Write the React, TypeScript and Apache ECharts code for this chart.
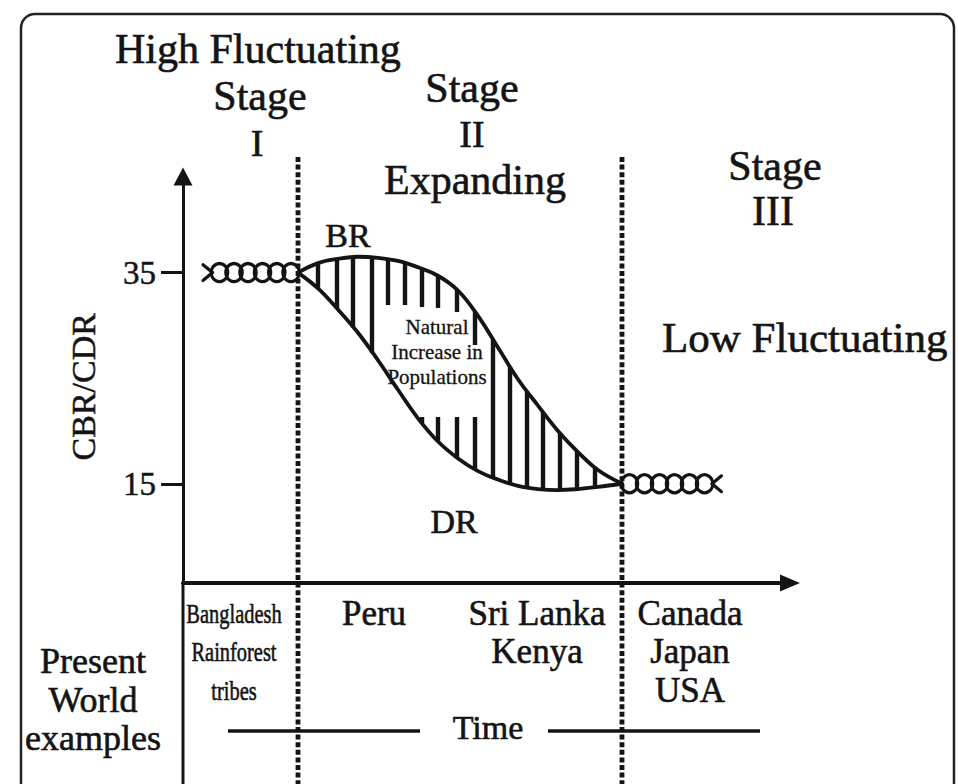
import React, { useEffect, useRef } from 'react';
import * as echarts from 'echarts';

// ---- axes ----
const xMin = 0;
const xMax = 121.4;
const yMin = 5.6;
const yMax = 44.1;
const yTickValues = [15, 35];
const yAxisName = 'CBR/CDR';
const stageBoundaries = [23, 87.8];

// ---- birth rate / death rate curves (stage II) ----
const curveX = [23, 27, 31, 35, 39, 43, 47, 51, 55, 59, 63, 67, 71, 75, 79, 83, 87.8];
const birthRate = [35.0, 35.9, 36.3, 36.5, 36.4, 36.1, 35.5, 34.7, 33.3, 30.9, 27.9, 24.9, 22.4, 20.0, 18.0, 16.3, 15.0];
const deathRate = [35.0, 33.5, 31.5, 29.3, 26.7, 23.9, 21.2, 19.0, 17.4, 16.2, 15.4, 14.8, 14.5, 14.4, 14.5, 14.7, 15.0];

// ---- fluctuating chains (stage I and stage III): loop centres and end tails ----
const chainILoopX = [7.3, 10.2, 13.0, 15.9, 18.75, 21.6];
const chainILoopY = [35, 35, 35, 35, 35, 35];
const chainITailX = [4.0, 5.9];
const chainITailUpper = [35.75, 35];
const chainITailLower = [34.25, 35];
const chainIIILoopX = [89.3, 92.3, 95.3, 98.3, 101.3, 104.3];
const chainIIILoopY = [15, 15, 15, 15, 15, 15];
const chainIIITailX = [105.8, 107.7];
const chainIIITailUpper = [15, 15.75];
const chainIIITailLower = [15, 14.25];

// ---- hatch segments: [x, top, bottom] ----
const hatchX = [27, 30.8, 34, 37.8, 41, 44.4, 47.8, 47.8, 51, 51, 54.8, 54.8, 58.4, 58.4, 62, 65.4, 68.8, 72, 75.4, 78.8, 82.4];
const hatchTop = [35.9, 36.3, 36.45, 36.45, 36.3, 35.95, 35.4, 21.32, 34.7, 21.32, 33.35, 21.32, 31.25, 21.32, 28.65, 26.1, 23.8, 21.8, 19.8, 18.1, 16.55];
const hatchBottom = [33.5, 31.6, 29.8, 27.4, 31.93, 31.93, 31.74, 20.7, 31.65, 19.0, 31.27, 17.4, 28.14, 16.35, 15.6, 15.05, 14.65, 14.48, 14.4, 14.5, 14.67];

// ---- texts ----
const stageTitles = ['High Fluctuating', 'Stage', 'I', 'Stage', 'II', 'Expanding', 'Stage', 'III', 'Low Fluctuating'];
const curveLabels = ['BR', 'DR'];
const naturalIncrease = ['Natural', 'Increase in', 'Populations'];
const exampleLabels = ['Present', 'World', 'examples'];
const examplesStageI = ['Bangladesh', 'Rainforest', 'tribes'];
const examplesStageIIa = ['Peru'];
const examplesStageIIb = ['Sri Lanka', 'Kenya'];
const examplesStageIII = ['Canada', 'Japan', 'USA'];
const timeLabel = 'Time';

export default function App() {
  const ref = useRef<HTMLDivElement>(null);
  useEffect(() => {
    document.body.style.margin = '0';
    const el = ref.current as HTMLDivElement;
    const chart = echarts.init(el, null, { renderer: 'svg' });
    const ink = '#141414';
    const serif = "'Liberation Serif', 'Times New Roman', serif";

    const line = (xs: number[], ys: number[], width: number, smooth: number) => ({
      type: 'line',
      data: xs.map((x, i) => [x, ys[i]]),
      smooth,
      symbol: 'none',
      silent: true,
      z: 3,
      lineStyle: { color: ink, width, cap: 'round', join: 'round' },
    });

    const loops = (xs: number[], ys: number[]) => ({
      type: 'scatter',
      data: xs.map((x, i) => [x, ys[i]]),
      symbol: 'circle',
      symbolSize: [16.5, 18],
      silent: true,
      z: 4,
      itemStyle: { color: 'rgba(0,0,0,0)', borderColor: ink, borderWidth: 3.2, opacity: 1 },
    });

    chart.setOption({
      animation: false,
      backgroundColor: '#ffffff',
      grid: { left: 183, top: 176.5, width: 607, height: 406.5, containLabel: false, outerBoundsMode: 'none' },
      xAxis: {
        type: 'value',
        min: xMin,
        max: xMax,
        axisLine: {
          show: true,
          onZero: false,
          symbol: ['none', 'triangle'],
          symbolSize: [17, 20],
          lineStyle: { color: ink, width: 4 },
        },
        axisTick: { show: false },
        axisLabel: { show: false },
        splitLine: { show: false },
      },
      yAxis: {
        type: 'value',
        min: yMin,
        max: yMax,
        name: yAxisName,
        nameLocation: 'middle',
        nameRotate: 90,
        nameGap: 83,
        nameTextStyle: {
          fontFamily: serif,
          fontSize: 34,
          color: ink,
          padding: [0, 14, 0, 0],
          textBorderColor: ink,
          textBorderWidth: 0.5,
        },
        axisLine: {
          show: true,
          onZero: false,
          symbol: ['none', 'triangle'],
          symbolSize: [19, 18],
          lineStyle: { color: ink, width: 3 },
        },
        axisTick: {
          show: true,
          customValues: yTickValues,
          length: 22,
          lineStyle: { color: ink, width: 3 },
        },
        axisLabel: {
          customValues: yTickValues,
          fontFamily: serif,
          fontSize: 33,
          color: ink,
          margin: 27,
          textBorderColor: ink,
          textBorderWidth: 0.5,
        },
        splitLine: { show: false },
      },
      series: [
        {
          type: 'custom',
          silent: true,
          z: 2,
          data: hatchX.map((x, i) => [x, hatchTop[i], hatchBottom[i]]),
          encode: { x: 0, y: [1, 2] },
          renderItem: (params: any, api: any) => {
            const p1 = api.coord([api.value(0), api.value(1)]);
            const p2 = api.coord([api.value(0), api.value(2)]);
            return {
              type: 'line',
              shape: { x1: p1[0], y1: p1[1], x2: p2[0], y2: p2[1] },
              style: { stroke: ink, lineWidth: 4.4 },
            };
          },
        },
        line(curveX, birthRate, 3.8, 0.4),
        line(curveX, deathRate, 3.8, 0.4),
        loops(chainILoopX, chainILoopY),
        line(chainITailX, chainITailUpper, 3.2, 0.3),
        line(chainITailX, chainITailLower, 3.2, 0.3),
        loops(chainIIILoopX, chainIIILoopY),
        line(chainIIITailX, chainIIITailUpper, 3.2, 0.3),
        line(chainIIITailX, chainIIITailLower, 3.2, 0.3),
      ],
    });

    const px = (x: number, y: number) => chart.convertToPixel({ gridIndex: 0 }, [x, y]) as number[];
    const origin = px(xMin, yMin);

    const txt = (text: string, x: number, y: number, size: number, align = 'center', scaleX = 1) => ({
      type: 'text',
      x,
      y,
      scaleX,
      z: 10,
      silent: true,
      style: {
        text,
        fontFamily: serif,
        fontSize: size,
        fill: ink,
        stroke: ink,
        lineWidth: size > 25 ? 0.6 : 0.3,
        textAlign: align,
        textVerticalAlign: 'middle',
        align,
        verticalAlign: 'middle',
      },
    });

    const graphics: any[] = [];
    graphics.push({
      type: 'rect',
      shape: { x: 21, y: 14, width: 933, height: 800, r: 14 },
      style: { fill: 'none', stroke: '#222', lineWidth: 2.5 },
      z: 1,
      silent: true,
    });
    graphics.push({
      type: 'line',
      shape: { x1: origin[0], y1: origin[1], x2: origin[0], y2: 790 },
      style: { stroke: ink, lineWidth: 3 },
      z: 5,
      silent: true,
    });
    stageBoundaries.forEach((b) => {
      const p = px(b, yMin);
      graphics.push({
        type: 'line',
        shape: { x1: p[0], y1: 157, x2: p[0], y2: 790 },
        style: { stroke: ink, lineWidth: 4.8, lineDash: [5, 2.6] },
        z: 6,
        silent: true,
      });
    });
    graphics.push({ type: 'line', shape: { x1: 228, y1: 731, x2: 420, y2: 731 }, style: { stroke: ink, lineWidth: 3.5 }, z: 5, silent: true });
    graphics.push({ type: 'line', shape: { x1: 548, y1: 731, x2: 760, y2: 731 }, style: { stroke: ink, lineWidth: 3.5 }, z: 5, silent: true });

    graphics.push(txt(stageTitles[0], 115, 49, 42, 'left'));
    graphics.push(txt(stageTitles[1], 260, 96, 42));
    graphics.push(txt(stageTitles[2], 257, 143, 38));
    graphics.push(txt(stageTitles[3], 472, 88, 42));
    graphics.push(txt(stageTitles[4], 472, 134, 38));
    graphics.push(txt(stageTitles[5], 475, 180, 42));
    graphics.push(txt(stageTitles[6], 775, 166, 42));
    graphics.push(txt(stageTitles[7], 773, 211, 42));
    graphics.push(txt(stageTitles[8], 662, 337, 43, 'left'));
    graphics.push(txt(curveLabels[0], 348, 235, 34));
    graphics.push(txt(curveLabels[1], 454, 521, 34));
    naturalIncrease.forEach((s, i) => graphics.push(txt(s, 437, 327 + i * 25, 21)));
    exampleLabels.forEach((s, i) => graphics.push(txt(s, 93, 661 + i * 38.5, 36)));
    examplesStageI.forEach((s, i) => graphics.push(txt(s, 234, 613 + i * 38.5, 28, 'center', 0.73)));
    examplesStageIIa.forEach((s, i) => graphics.push(txt(s, 374, 613 + i * 38.5, 35)));
    examplesStageIIb.forEach((s, i) => graphics.push(txt(s, 537, 613 + i * 38.5, 35)));
    examplesStageIII.forEach((s, i) => graphics.push(txt(s, 690, 613 + i * 38.5, 35)));
    graphics.push(txt(timeLabel, 488, 727, 34));

    chart.setOption({ graphic: graphics });

    return () => chart.dispose();
  }, []);

  return <div ref={ref} style={{ width: 958, height: 784 }} />;
}
